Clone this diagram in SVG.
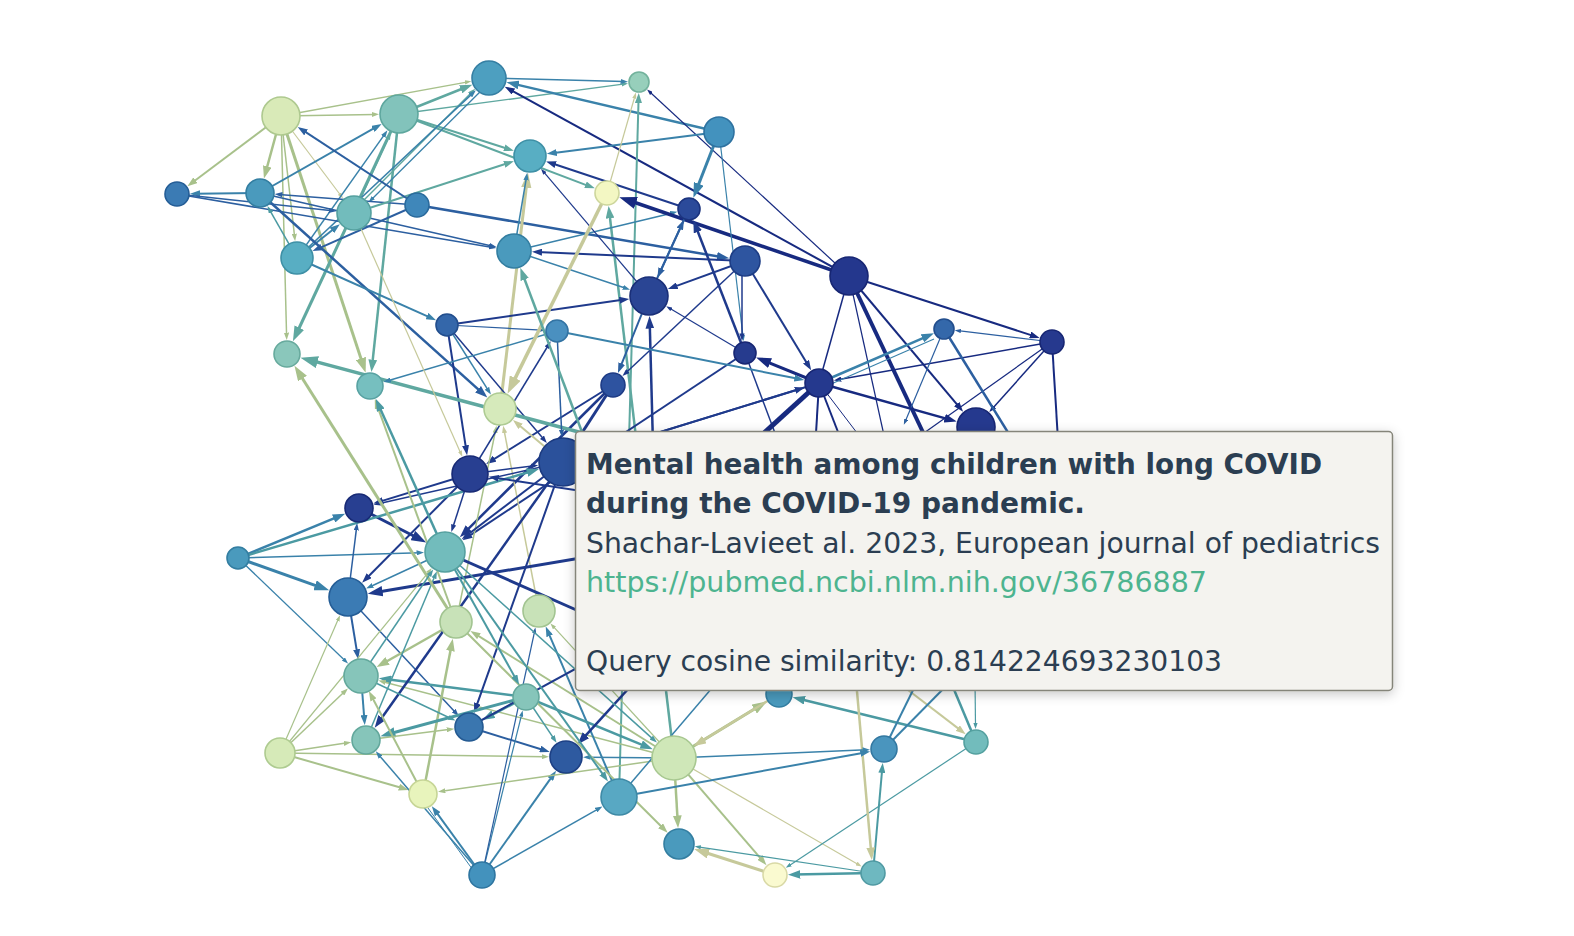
<svg xmlns="http://www.w3.org/2000/svg" width="1574" height="936" viewBox="0 0 1574 936">
<defs>
<style>
line{fill:none;stroke-linecap:butt}
.g,.ga{stroke:#a8c18b}.ga{marker-end:url(#mg)}
.p,.pa{stroke:#c6c99a}.pa{marker-end:url(#mp)}
.t,.ta{stroke:#5fa8a0}.ta{marker-end:url(#mt)}
.c,.ca{stroke:#4b9aa2}.ca{marker-end:url(#mc)}
.b,.ba{stroke:#3a82aa}.ba{marker-end:url(#mb)}
.u,.ua{stroke:#2c5fa0}.ua{marker-end:url(#mu)}
.n,.na{stroke:#1f3a8c}.na{marker-end:url(#mn)}
.d,.da{stroke:#172a80}.da{marker-end:url(#md)}
circle{stroke-width:1.6}
.tt{font-family:"DejaVu Sans","Verdana",sans-serif;font-size:28px;fill:#2b3e52}
.tb{font-weight:bold}
.url{fill:#4db48f}
</style>
<marker id="mg" viewBox="0 0 10 7" refX="5" refY="3.5" markerWidth="5" markerHeight="3.5" orient="auto" markerUnits="strokeWidth"><path d="M0,0L10,3.5L0,7z" fill="#a8c18b"/></marker>
<marker id="mp" viewBox="0 0 10 7" refX="5" refY="3.5" markerWidth="5" markerHeight="3.5" orient="auto" markerUnits="strokeWidth"><path d="M0,0L10,3.5L0,7z" fill="#c6c99a"/></marker>
<marker id="mt" viewBox="0 0 10 7" refX="5" refY="3.5" markerWidth="5" markerHeight="3.5" orient="auto" markerUnits="strokeWidth"><path d="M0,0L10,3.5L0,7z" fill="#5fa8a0"/></marker>
<marker id="mc" viewBox="0 0 10 7" refX="5" refY="3.5" markerWidth="5" markerHeight="3.5" orient="auto" markerUnits="strokeWidth"><path d="M0,0L10,3.5L0,7z" fill="#4b9aa2"/></marker>
<marker id="mb" viewBox="0 0 10 7" refX="5" refY="3.5" markerWidth="5" markerHeight="3.5" orient="auto" markerUnits="strokeWidth"><path d="M0,0L10,3.5L0,7z" fill="#3a82aa"/></marker>
<marker id="mu" viewBox="0 0 10 7" refX="5" refY="3.5" markerWidth="5" markerHeight="3.5" orient="auto" markerUnits="strokeWidth"><path d="M0,0L10,3.5L0,7z" fill="#2c5fa0"/></marker>
<marker id="mn" viewBox="0 0 10 7" refX="5" refY="3.5" markerWidth="5" markerHeight="3.5" orient="auto" markerUnits="strokeWidth"><path d="M0,0L10,3.5L0,7z" fill="#1f3a8c"/></marker>
<marker id="md" viewBox="0 0 10 7" refX="5" refY="3.5" markerWidth="5" markerHeight="3.5" orient="auto" markerUnits="strokeWidth"><path d="M0,0L10,3.5L0,7z" fill="#172a80"/></marker>
<filter id="sh" x="-5%" y="-8%" width="110%" height="120%"><feDropShadow dx="0" dy="3" stdDeviation="6" flood-color="#000" flood-opacity="0.22"/></filter>
</defs>
<rect width="1574" height="936" fill="#ffffff"/>
<g id="edges">
<line class="ga" x1="281" y1="116" x2="191.4" y2="183.2" stroke-width="2"/>
<line class="ga" x1="281" y1="116" x2="265.6" y2="172.5" stroke-width="2.5"/>
<line class="ga" x1="281" y1="116" x2="375.3" y2="114.4" stroke-width="1.5"/>
<line class="ga" x1="281" y1="116" x2="468.1" y2="81.8" stroke-width="1.3"/>
<line class="ga" x1="281" y1="116" x2="294.7" y2="237.4" stroke-width="1.5"/>
<line class="pa" x1="281" y1="116" x2="341.2" y2="196" stroke-width="1.2"/>
<line class="ga" x1="281" y1="116" x2="286.6" y2="336.3" stroke-width="1.5"/>
<line class="ga" x1="281" y1="116" x2="363.3" y2="365.6" stroke-width="3"/>
<line class="ta" x1="399" y1="114" x2="466.5" y2="87" stroke-width="2.5"/>
<line class="ta" x1="399" y1="114" x2="624.9" y2="83.9" stroke-width="1.3"/>
<line class="ta" x1="399" y1="114" x2="509.1" y2="149.3" stroke-width="2"/>
<line class="ta" x1="399" y1="114" x2="590.2" y2="186.6" stroke-width="2"/>
<line class="ta" x1="399" y1="114" x2="296.1" y2="334.5" stroke-width="3"/>
<line class="ta" x1="399" y1="114" x2="372.1" y2="365.9" stroke-width="2.5"/>
<line class="ba" x1="260" y1="193" x2="377.3" y2="126.4" stroke-width="2"/>
<line class="ba" x1="297" y1="258" x2="385.3" y2="133.4" stroke-width="1.5"/>
<line class="ta" x1="354" y1="213" x2="389.2" y2="135.6" stroke-width="1.5"/>
<line class="ta" x1="353" y1="211" x2="472.5" y2="91.5" stroke-width="1.5"/>
<line class="ba" x1="491" y1="81" x2="371" y2="200" stroke-width="1.3"/>
<line class="ba" x1="297" y1="258" x2="473.1" y2="92.9" stroke-width="1.5"/>
<line class="ba" x1="489" y1="78" x2="624.3" y2="81.6" stroke-width="1.5"/>
<line class="ba" x1="719" y1="132" x2="512.6" y2="83.6" stroke-width="2.5"/>
<line class="da" x1="849" y1="276" x2="509.1" y2="89.1" stroke-width="2"/>
<line class="da" x1="849" y1="276" x2="649.3" y2="91.5" stroke-width="1.2"/>
<line class="ba" x1="719" y1="132" x2="551.8" y2="153.2" stroke-width="2"/>
<line class="pa" x1="607" y1="193" x2="635.1" y2="95.5" stroke-width="1.2"/>
<line class="ta" x1="619" y1="797" x2="638.6" y2="98" stroke-width="2"/>
<line class="ta" x1="674" y1="758" x2="609.3" y2="212.1" stroke-width="2.5"/>
<line class="ba" x1="260" y1="193" x2="195" y2="193.8" stroke-width="2"/>
<line class="ua" x1="417" y1="205" x2="278.7" y2="194.4" stroke-width="1.5"/>
<line class="ua" x1="177" y1="194" x2="332.4" y2="210.7" stroke-width="1.5"/>
<line class="ua" x1="177" y1="194" x2="492.6" y2="247.4" stroke-width="1.5"/>
<line class="ua" x1="260" y1="193" x2="492.8" y2="246.2" stroke-width="1.5"/>
<line class="ua" x1="417" y1="205" x2="317.1" y2="249.1" stroke-width="2"/>
<line class="ba" x1="297" y1="258" x2="335.9" y2="227.3" stroke-width="2"/>
<line class="ca" x1="297" y1="258" x2="269.3" y2="209.3" stroke-width="1.5"/>
<line class="ua" x1="260" y1="193" x2="482.7" y2="393.4" stroke-width="2.5"/>
<line class="ba" x1="297" y1="258" x2="431.5" y2="318.1" stroke-width="2"/>
<line class="ua" x1="417" y1="205" x2="723.1" y2="257.3" stroke-width="2.5"/>
<line class="ba" x1="514" y1="251" x2="673.7" y2="212.7" stroke-width="1.5"/>
<line class="ta" x1="354" y1="213" x2="509.1" y2="162.8" stroke-width="2"/>
<line class="ua" x1="417" y1="205" x2="301.9" y2="129.7" stroke-width="2"/>
<line class="na" x1="689" y1="209" x2="550.9" y2="163" stroke-width="2"/>
<line class="na" x1="649" y1="296" x2="543" y2="171.2" stroke-width="1.2"/>
<line class="pa" x1="500" y1="409" x2="527.1" y2="180.3" stroke-width="3"/>
<line class="ba" x1="514" y1="251" x2="526.6" y2="176.5" stroke-width="1.5"/>
<line class="na" x1="745" y1="261" x2="537" y2="252" stroke-width="2"/>
<line class="ba" x1="514" y1="251" x2="626.5" y2="288.5" stroke-width="1.5"/>
<line class="ua" x1="447" y1="325" x2="542" y2="330.2" stroke-width="1.2"/>
<line class="na" x1="447" y1="325" x2="624.3" y2="299.6" stroke-width="2"/>
<line class="da" x1="849" y1="276" x2="627.6" y2="200" stroke-width="3.5"/>
<line class="ba" x1="719" y1="132" x2="696.1" y2="190.8" stroke-width="3"/>
<line class="ua" x1="649" y1="296" x2="681.9" y2="224.4" stroke-width="2"/>
<line class="ua" x1="689" y1="209" x2="659.5" y2="273.3" stroke-width="2"/>
<line class="na" x1="745" y1="353" x2="695.6" y2="226" stroke-width="2.5"/>
<line class="ba" x1="719" y1="132" x2="743.2" y2="338.1" stroke-width="1.2"/>
<line class="na" x1="742" y1="261" x2="742" y2="337.2" stroke-width="1.5"/>
<line class="na" x1="745" y1="261" x2="672.5" y2="287.4" stroke-width="2"/>
<line class="na" x1="745" y1="261" x2="625.2" y2="373.5" stroke-width="1.5"/>
<line class="na" x1="745" y1="261" x2="808.6" y2="365.9" stroke-width="2"/>
<line class="na" x1="745" y1="353" x2="668.8" y2="307.8" stroke-width="1.2"/>
<line class="ua" x1="649" y1="296" x2="619.8" y2="368.3" stroke-width="2"/>
<line class="na" x1="655" y1="520" x2="649.7" y2="322.3" stroke-width="2.5"/>
<line class="da" x1="819" y1="383" x2="763.1" y2="360.3" stroke-width="3"/>
<line class="n" x1="745" y1="353" x2="800" y2="500" stroke-width="1.5"/>
<line class="na" x1="613" y1="385" x2="490.4" y2="461.3" stroke-width="2"/>
<line class="na" x1="613" y1="385" x2="464.3" y2="532.8" stroke-width="2.5"/>
<line class="na" x1="745" y1="353" x2="466.7" y2="537.6" stroke-width="2"/>
<line class="d" x1="849" y1="276" x2="819" y2="383" stroke-width="1.5"/>
<line class="d" x1="849" y1="276" x2="955" y2="500" stroke-width="4"/>
<line class="da" x1="849" y1="276" x2="959.9" y2="407.9" stroke-width="2"/>
<line class="da" x1="849" y1="276" x2="1034.9" y2="336.4" stroke-width="2"/>
<line class="d" x1="849" y1="276" x2="885" y2="440" stroke-width="1.2"/>
<line class="ua" x1="1052" y1="342" x2="957.9" y2="330.7" stroke-width="1.2"/>
<line class="da" x1="1052" y1="342" x2="837.5" y2="379.8" stroke-width="1.5"/>
<line class="da" x1="1052" y1="342" x2="991.8" y2="409.3" stroke-width="1.5"/>
<line class="d" x1="1052" y1="342" x2="900" y2="450" stroke-width="1.2"/>
<line class="d" x1="1052" y1="342" x2="1058" y2="440" stroke-width="2"/>
<line class="ba" x1="819" y1="383" x2="928.2" y2="335.8" stroke-width="2.5"/>
<line class="b" x1="822" y1="388" x2="934" y2="339" stroke-width="1.2"/>
<line class="ua" x1="944" y1="329" x2="905" y2="422" stroke-width="1.2"/>
<line class="u" x1="944" y1="329" x2="1025" y2="460" stroke-width="2.5"/>
<line class="da" x1="819" y1="383" x2="950.7" y2="419.9" stroke-width="2.5"/>
<line class="ba" x1="557" y1="331" x2="799.4" y2="379.1" stroke-width="2"/>
<line class="d" x1="819" y1="383" x2="740" y2="455" stroke-width="5"/>
<line class="n" x1="819" y1="383" x2="563" y2="462" stroke-width="2"/>
<line class="na" x1="563" y1="462" x2="799.9" y2="388.9" stroke-width="2"/>
<line class="d" x1="819" y1="383" x2="815" y2="450" stroke-width="2"/>
<line class="d" x1="819" y1="383" x2="845" y2="450" stroke-width="2"/>
<line class="d" x1="819" y1="383" x2="870" y2="450" stroke-width="1"/>
<line class="na" x1="447" y1="325" x2="466.3" y2="450.3" stroke-width="2"/>
<line class="na" x1="447" y1="325" x2="544.4" y2="440.1" stroke-width="1.5"/>
<line class="ta" x1="620" y1="443" x2="309" y2="359.9" stroke-width="3.5"/>
<line class="ba" x1="557" y1="331" x2="387" y2="381" stroke-width="1.5"/>
<line class="pa" x1="607" y1="193" x2="511.4" y2="385.9" stroke-width="3.5"/>
<line class="ga" x1="456" y1="622" x2="495.8" y2="429.3" stroke-width="1.5"/>
<line class="pa" x1="539" y1="611" x2="503.9" y2="429.4" stroke-width="1.5"/>
<line class="pa" x1="563" y1="462" x2="516.8" y2="423.2" stroke-width="2"/>
<line class="na" x1="470" y1="474" x2="378.1" y2="502.1" stroke-width="2"/>
<line class="na" x1="563" y1="462" x2="377.3" y2="503.9" stroke-width="1.5"/>
<line class="na" x1="470" y1="474" x2="365.6" y2="579.2" stroke-width="2"/>
<line class="na" x1="359" y1="508" x2="419.6" y2="539" stroke-width="3"/>
<line class="n" x1="445" y1="552" x2="590" y2="616" stroke-width="3"/>
<line class="ba" x1="238" y1="558" x2="339.4" y2="516.1" stroke-width="2.5"/>
<line class="ca" x1="238" y1="558" x2="533" y2="470.8" stroke-width="2.5"/>
<line class="ba" x1="238" y1="558" x2="420.3" y2="552.7" stroke-width="1.5"/>
<line class="ba" x1="238" y1="558" x2="322.1" y2="587.8" stroke-width="3"/>
<line class="ba" x1="238" y1="558" x2="345.7" y2="661.3" stroke-width="1.3"/>
<line class="ua" x1="348" y1="597" x2="356.7" y2="526.6" stroke-width="1.5"/>
<line class="ua" x1="348" y1="597" x2="357.4" y2="654.3" stroke-width="2"/>
<line class="ua" x1="348" y1="597" x2="456.2" y2="713.3" stroke-width="1.5"/>
<line class="na" x1="640" y1="548" x2="375.1" y2="592.5" stroke-width="3"/>
<line class="ba" x1="445" y1="552" x2="369.5" y2="587" stroke-width="1.5"/>
<line class="ga" x1="456" y1="622" x2="382.1" y2="664" stroke-width="2.5"/>
<line class="ga" x1="423" y1="794" x2="451.6" y2="644.8" stroke-width="2.5"/>
<line class="ga" x1="280" y1="753" x2="338.8" y2="618.1" stroke-width="1.2"/>
<line class="ga" x1="280" y1="753" x2="345.2" y2="691" stroke-width="1.5"/>
<line class="ga" x1="280" y1="753" x2="429.8" y2="570.6" stroke-width="1.2"/>
<line class="ba" x1="361" y1="676" x2="364.4" y2="720.1" stroke-width="2"/>
<line class="ca" x1="526" y1="697" x2="385.1" y2="679.1" stroke-width="2.5"/>
<line class="ga" x1="674" y1="758" x2="382" y2="681.5" stroke-width="1.5"/>
<line class="ca" x1="366" y1="740" x2="435.4" y2="574.8" stroke-width="1.5"/>
<line class="na" x1="563" y1="462" x2="378.3" y2="722.7" stroke-width="2.5"/>
<line class="ca" x1="526" y1="697" x2="487.8" y2="717.1" stroke-width="2.5"/>
<line class="na" x1="563" y1="462" x2="475.7" y2="708.2" stroke-width="2"/>
<line class="ua" x1="469" y1="727" x2="545" y2="750.5" stroke-width="2"/>
<line class="ca" x1="526" y1="697" x2="387.7" y2="734.2" stroke-width="3"/>
<line class="ga" x1="366" y1="740" x2="450.4" y2="729.3" stroke-width="1.5"/>
<line class="ga" x1="280" y1="753" x2="347.5" y2="742.8" stroke-width="1.5"/>
<line class="ga" x1="280" y1="753" x2="403.8" y2="788.5" stroke-width="2"/>
<line class="ga" x1="280" y1="753" x2="545.3" y2="756.7" stroke-width="1.5"/>
<line class="ga" x1="423" y1="794" x2="371.2" y2="695.5" stroke-width="2"/>
<line class="ba" x1="482" y1="875" x2="378.2" y2="754.2" stroke-width="1.5"/>
<line class="ba" x1="482" y1="875" x2="434.8" y2="810.2" stroke-width="2"/>
<line class="b" x1="478" y1="877" x2="428" y2="808" stroke-width="1"/>
<line class="ba" x1="482" y1="875" x2="521.9" y2="713.5" stroke-width="1.2"/>
<line class="ba" x1="482" y1="875" x2="553.2" y2="774.9" stroke-width="2"/>
<line class="ba" x1="482" y1="875" x2="599.2" y2="808.3" stroke-width="1.5"/>
<line class="ga" x1="674" y1="758" x2="441.6" y2="791.3" stroke-width="1.5"/>
<line class="ba" x1="619" y1="797" x2="547.7" y2="631.2" stroke-width="2"/>
<line class="ua" x1="482" y1="875" x2="534.8" y2="630.5" stroke-width="1.2"/>
<line class="ga" x1="674" y1="758" x2="552.5" y2="625.7" stroke-width="1.2"/>
<line class="ca" x1="526" y1="697" x2="647" y2="746.9" stroke-width="2.5"/>
<line class="ga" x1="674" y1="758" x2="474.7" y2="633.6" stroke-width="2"/>
<line class="ca" x1="526" y1="697" x2="554.5" y2="739.7" stroke-width="1.5"/>
<line class="n" x1="469" y1="727" x2="610" y2="650" stroke-width="2"/>
<line class="na" x1="650" y1="665" x2="581.7" y2="739.8" stroke-width="2.5"/>
<line class="ba" x1="674" y1="758" x2="586.8" y2="757.2" stroke-width="1.5"/>
<line class="ga" x1="456" y1="622" x2="664.1" y2="829.2" stroke-width="2"/>
<line class="ga" x1="674" y1="758" x2="677.7" y2="821.8" stroke-width="2.5"/>
<line class="ga" x1="674" y1="758" x2="763.2" y2="861.4" stroke-width="2"/>
<line class="pa" x1="674" y1="758" x2="859.1" y2="865" stroke-width="1.2"/>
<line class="pa" x1="775" y1="875" x2="701.3" y2="851.2" stroke-width="3"/>
<line class="ca" x1="873" y1="873" x2="697.8" y2="846.8" stroke-width="1.2"/>
<line class="ca" x1="873" y1="873" x2="794.2" y2="874.6" stroke-width="2.5"/>
<line class="ca" x1="976" y1="742" x2="788.3" y2="866.2" stroke-width="1.2"/>
<line class="ca" x1="873" y1="873" x2="882.3" y2="767.9" stroke-width="2"/>
<line class="ca" x1="976" y1="742" x2="798.7" y2="698.8" stroke-width="2.5"/>
<line class="pa" x1="895" y1="680" x2="961.7" y2="731.1" stroke-width="2"/>
<line class="ca" x1="975" y1="680" x2="975.5" y2="726" stroke-width="1.2"/>
<line class="c" x1="976" y1="742" x2="950" y2="680" stroke-width="2.5"/>
<line class="b" x1="884" y1="749" x2="918" y2="680" stroke-width="2"/>
<line class="b" x1="884" y1="749" x2="952" y2="680" stroke-width="2"/>
<line class="pa" x1="856" y1="680" x2="871.3" y2="853.8" stroke-width="2.5"/>
<line class="ba" x1="674" y1="758" x2="866.3" y2="749.8" stroke-width="1.5"/>
<line class="ba" x1="619" y1="797" x2="865.3" y2="752.4" stroke-width="2"/>
<line class="ga" x1="674" y1="758" x2="760.6" y2="705.2" stroke-width="3"/>
<line class="pa" x1="779" y1="694" x2="699" y2="742.8" stroke-width="2.5"/>
<line class="b" x1="619" y1="797" x2="712" y2="688" stroke-width="1.5"/>
<line class="ca" x1="445" y1="552" x2="516.7" y2="680.4" stroke-width="2"/>
<line class="ca" x1="445" y1="552" x2="605.1" y2="777.4" stroke-width="2"/>
<line class="ca" x1="445" y1="552" x2="654.1" y2="740.1" stroke-width="1.5"/>
<line class="ga" x1="456" y1="622" x2="298.5" y2="372.2" stroke-width="3"/>
<line class="ga" x1="456" y1="622" x2="376.5" y2="403.8" stroke-width="2"/>
<line class="ca" x1="445" y1="552" x2="378.3" y2="404.4" stroke-width="2.5"/>
<line class="pa" x1="354" y1="213" x2="461.1" y2="453.9" stroke-width="1.2"/>
<line class="ba" x1="447" y1="325" x2="488.9" y2="391.4" stroke-width="1.5"/>
<line class="ua" x1="557" y1="331" x2="561.7" y2="433.3" stroke-width="1.5"/>
<line class="na" x1="470" y1="474" x2="548.8" y2="344.5" stroke-width="1.5"/>
<line class="na" x1="470" y1="474" x2="534.5" y2="465.7" stroke-width="1.5"/>
<line class="na" x1="640" y1="500" x2="493.7" y2="477.6" stroke-width="2"/>
<line class="na" x1="563" y1="462" x2="465.7" y2="536.2" stroke-width="2"/>
<line class="n" x1="613" y1="385" x2="563" y2="462" stroke-width="3"/>
<line class="ta" x1="600" y1="480" x2="522.5" y2="273.7" stroke-width="2.5"/>
<line class="ca" x1="361" y1="676" x2="452" y2="719" stroke-width="1.5"/>
<line class="ca" x1="361" y1="676" x2="431.1" y2="572.5" stroke-width="1.5"/>
<line class="na" x1="470" y1="474" x2="452.5" y2="528.4" stroke-width="1.5"/>
</g>
<g id="node-1"><circle cx="281" cy="116" r="19" fill="#d9eab8" stroke="#aec98f"/></g>
<g id="node-2"><circle cx="399" cy="114" r="19" fill="#82c3bb" stroke="#5ea79e"/></g>
<g id="node-3"><circle cx="489" cy="78" r="17" fill="#4d9fc0" stroke="#357fa3"/></g>
<g id="node-4"><circle cx="639" cy="82" r="10" fill="#97cfbb" stroke="#72b29c"/></g>
<g id="node-5"><circle cx="719" cy="132" r="15" fill="#4392be" stroke="#2e72a0"/></g>
<g id="node-6"><circle cx="177" cy="194" r="12" fill="#3b7bb4" stroke="#245d96"/></g>
<g id="node-7"><circle cx="260" cy="193" r="14" fill="#4a9abd" stroke="#337ea1"/></g>
<g id="node-8"><circle cx="354" cy="213" r="17" fill="#72bcbc" stroke="#54a09f"/></g>
<g id="node-9"><circle cx="417" cy="205" r="12" fill="#3f87ba" stroke="#2a6a9c"/></g>
<g id="node-10"><circle cx="297" cy="258" r="16" fill="#58aec3" stroke="#3e90a6"/></g>
<g id="node-11"><circle cx="530" cy="156" r="16" fill="#58aec3" stroke="#3e90a6"/></g>
<g id="node-12"><circle cx="607" cy="193" r="12" fill="#f3f7c3" stroke="#cdd69c"/></g>
<g id="node-13"><circle cx="689" cy="209" r="11" fill="#2b4a9a" stroke="#1b337e"/></g>
<g id="node-14"><circle cx="514" cy="251" r="17" fill="#4a9abd" stroke="#337ea1"/></g>
<g id="node-15"><circle cx="745" cy="261" r="15" fill="#2e55a0" stroke="#1d3d85"/></g>
<g id="node-16"><circle cx="849" cy="276" r="19" fill="#24378d" stroke="#172673"/></g>
<g id="node-17"><circle cx="649" cy="296" r="19" fill="#2a4594" stroke="#1a2f78"/></g>
<g id="node-18"><circle cx="447" cy="325" r="11" fill="#3467aa" stroke="#224e8d"/></g>
<g id="node-19"><circle cx="557" cy="331" r="11" fill="#4a90c0" stroke="#3373a3"/></g>
<g id="node-20"><circle cx="944" cy="329" r="10" fill="#3468aa" stroke="#224e8d"/></g>
<g id="node-21"><circle cx="1052" cy="342" r="12" fill="#26398e" stroke="#172673"/></g>
<g id="node-22"><circle cx="745" cy="353" r="11" fill="#263b8e" stroke="#172673"/></g>
<g id="node-23"><circle cx="287" cy="354" r="13" fill="#8ac7bb" stroke="#67aa9d"/></g>
<g id="node-24"><circle cx="370" cy="386" r="13" fill="#76bfbf" stroke="#58a2a2"/></g>
<g id="node-25"><circle cx="613" cy="385" r="12" fill="#2e53a0" stroke="#1d3b85"/></g>
<g id="node-26"><circle cx="819" cy="383" r="14" fill="#25398e" stroke="#172673"/></g>
<g id="node-27"><circle cx="500" cy="409" r="16" fill="#d6eabb" stroke="#aecb93"/></g>
<g id="node-28"><circle cx="976" cy="427" r="19" fill="#25398e" stroke="#172673"/></g>
<g id="node-29"><circle cx="470" cy="474" r="18" fill="#283f91" stroke="#182a75"/></g>
<g id="node-30"><circle cx="563" cy="462" r="24" fill="#2b519b" stroke="#1b3a80"/></g>
<g id="node-31"><circle cx="359" cy="508" r="14" fill="#283f91" stroke="#182a75"/></g>
<g id="node-32"><circle cx="238" cy="558" r="11" fill="#4a9abd" stroke="#337ea1"/></g>
<g id="node-33"><circle cx="445" cy="552" r="20" fill="#72bcbc" stroke="#54a09f"/></g>
<g id="node-34"><circle cx="348" cy="597" r="19" fill="#3b7bb4" stroke="#245d96"/></g>
<g id="node-35"><circle cx="456" cy="622" r="16" fill="#c8e2b8" stroke="#a2c491"/></g>
<g id="node-36"><circle cx="539" cy="611" r="16" fill="#c8e2b8" stroke="#a2c491"/></g>
<g id="node-37"><circle cx="361" cy="676" r="17" fill="#86c5ba" stroke="#63a89c"/></g>
<g id="node-38"><circle cx="526" cy="697" r="13" fill="#86c5ba" stroke="#63a89c"/></g>
<g id="node-39"><circle cx="469" cy="727" r="14" fill="#3a76af" stroke="#245a92"/></g>
<g id="node-40"><circle cx="779" cy="694" r="13" fill="#4a9abd" stroke="#337ea1"/></g>
<g id="node-41"><circle cx="280" cy="753" r="15" fill="#d6eab8" stroke="#aecb90"/></g>
<g id="node-42"><circle cx="366" cy="740" r="14" fill="#86c5ba" stroke="#63a89c"/></g>
<g id="node-43"><circle cx="566" cy="757" r="16" fill="#2e5aa0" stroke="#1d4085"/></g>
<g id="node-44"><circle cx="674" cy="758" r="22" fill="#cfe7b8" stroke="#a8c891"/></g>
<g id="node-45"><circle cx="884" cy="749" r="13" fill="#4a95be" stroke="#3378a1"/></g>
<g id="node-46"><circle cx="976" cy="742" r="12" fill="#72bcbc" stroke="#54a09f"/></g>
<g id="node-47"><circle cx="423" cy="794" r="14" fill="#e8f4bc" stroke="#c6d596"/></g>
<g id="node-48"><circle cx="619" cy="797" r="18" fill="#58a8c3" stroke="#3e8aa6"/></g>
<g id="node-49"><circle cx="679" cy="844" r="15" fill="#4a9abd" stroke="#337ea1"/></g>
<g id="node-50"><circle cx="775" cy="875" r="12" fill="#fafad0" stroke="#d9d9a6"/></g>
<g id="node-51"><circle cx="873" cy="873" r="12" fill="#6eb8c0" stroke="#509aa3"/></g>
<g id="node-52"><circle cx="482" cy="875" r="13" fill="#4392bd" stroke="#2e75a0"/></g>
<g id="tooltip">
<rect x="575.5" y="431.5" width="817" height="259" rx="4" fill="#f4f3ef" stroke="#85857a" stroke-width="1.5" filter="url(#sh)"/>
<text class="tt tb" x="586" y="474" textLength="736" lengthAdjust="spacingAndGlyphs">Mental health among children with long COVID</text>
<text class="tt tb" x="586" y="513" textLength="499" lengthAdjust="spacingAndGlyphs">during the COVID-19 pandemic.</text>
<text class="tt" x="586" y="553" textLength="794" lengthAdjust="spacingAndGlyphs">Shachar-Lavieet al. 2023, European journal of pediatrics</text>
<text class="tt url" x="586" y="592" textLength="621" lengthAdjust="spacingAndGlyphs">https://pubmed.ncbi.nlm.nih.gov/36786887</text>
<text class="tt" x="586" y="671" textLength="636" lengthAdjust="spacingAndGlyphs">Query cosine similarity: 0.814224693230103</text>
</g>
</svg>
